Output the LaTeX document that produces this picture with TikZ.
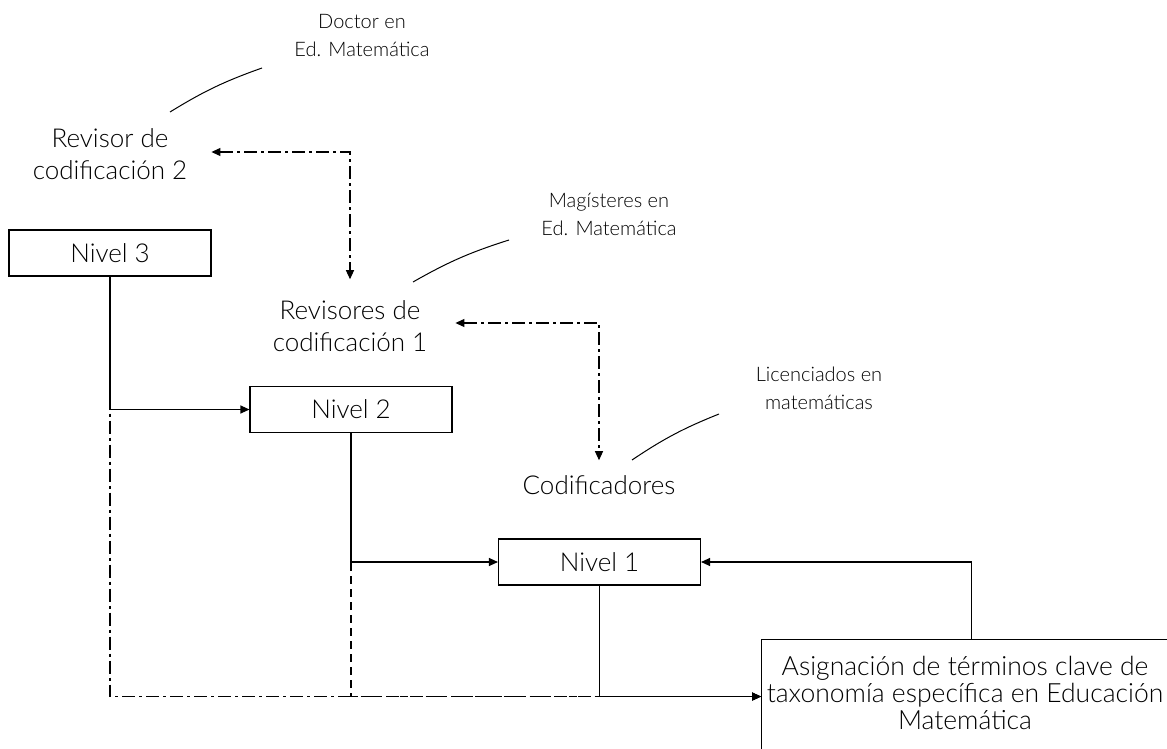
\documentclass[tikz,border=0pt]{standalone}
\usepackage{fontspec}
\setmainfont{Lato}[UprightFont=* Light]
\usetikzlibrary{arrows.meta}
\begin{document}
\begin{tikzpicture}[x=1pt,y=-1pt,
  nbox/.style={draw, line width=1.1pt, minimum width=202pt, minimum height=46pt, inner sep=0pt, font=\fontsize{26}{32}\selectfont},
  maintxt/.style={align=center, inner sep=0pt, font=\fontsize{26}{32}\selectfont},
  smalltxt/.style={align=center, inner sep=0pt, font=\fontsize{20}{28}\selectfont},
  asigtxt/.style={align=center, inner sep=0pt, font=\fontsize{26.5}{27}\selectfont},
  tip/.tip={Triangle[length=9pt,width=8pt]},
  conn/.style={line width=1.1pt, -tip},
  ddline/.style={dash pattern=on 13pt off 4pt on 3pt off 4pt},
  dshline/.style={dash pattern=on 8pt off 5pt},
  leader/.style={line width=1pt}]
\useasboundingbox (0,0) rectangle (1167,749);
\clip (0,0) rectangle (1167,749);

% text nodes
\node[smalltxt] (doc) at (362,36) {Doctor en\\Ed. Matemática};
\node[maintxt] (rev2) at (110,154) {Revisor de\\codificación 2};
\node[smalltxt] (mag) at (609,214) {Magísteres en\\Ed. Matemática};
\node[maintxt] (rev1) at (350,326) {Revisores de\\codificación 1};
\node[smalltxt] (lic) at (819,388) {Licenciados en\\matemáticas};
\node[maintxt] (cod) at (599,485) {Codificadores};

% boxes
\node[nbox] (n3) at (110,253) {Nivel 3};
\node[nbox] (n2) at (351,409.5) {Nivel 2};
\node[nbox] (n1) at (599.5,562) {Nivel 1};
\node[draw, line width=1.1pt, minimum width=420pt, minimum height=114pt, anchor=north west, inner sep=0pt] (asig) at (761,639) {};
\node[asigtxt] (asigt) at (965,693) {Asignación de términos clave de\\taxonomía específica en Educación\\Matemática};

% leader curves
\coordinate (c1a) at (170,112); \coordinate (c1b) at (262,68);
\coordinate (c2a) at (413,282); \coordinate (c2b) at (509,240);
\coordinate (c3a) at (632,460); \coordinate (c3b) at (719,414);
\draw[leader] (c1a) to[bend left=6] (c1b);
\draw[leader] (c2a) to[bend left=6] (c2b);
\draw[leader] (c3a) to[bend left=6] (c3b);

% dash-dot review arrows
\draw[line width=1.1pt, ddline, tip-tip] ([xshift=24pt,yshift=2pt]rev2.east) -| ([yshift=21pt]rev1.north);
\draw[line width=1.1pt, ddline, tip-tip] ([xshift=28pt,yshift=3pt]rev1.east) -| ([yshift=15pt]cod.north);

% level connectors
\draw[conn] (n3.south) |- (n2.west);
\draw[conn, ddline] (n3.south) |- (asig.west);
\draw[conn] (n2.south) |- (n1.west);
\draw[conn, dshline] (n2.south) |- (asig.west);
\draw[conn] (n1.south) |- (asig.west);
\draw[conn] (asig.north) |- (n1.east);
\end{tikzpicture}
\end{document}
